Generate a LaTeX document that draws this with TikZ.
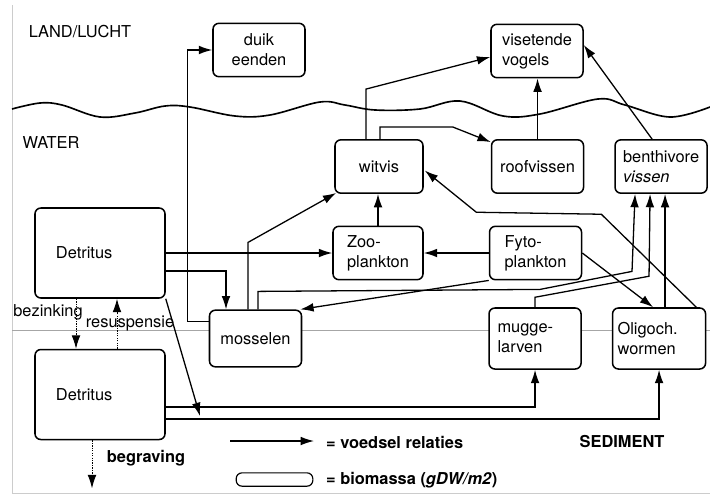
\documentclass[tikz,border=0pt]{standalone}
\usepackage{fontspec}
\setmainfont{TeX Gyre Heros}
\usetikzlibrary{arrows.meta, positioning}

\begin{document}
\begin{tikzpicture}[x=0.03cm, y=-0.03cm, node distance=0.9cm,
        font=\fontsize{14}{17}\selectfont,
        bio/.style={rectangle, draw=black, fill=white, rounded corners=5pt, line width=1.3pt, minimum width=2.76cm, minimum height=1.6cm, align=left},
        bioleft/.style={bio, minimum height=1.83cm, text width=2.25cm, inner xsep=0.24cm},
        detritus/.style={bio, minimum width=3.9cm, minimum height=2.7cm, text width=2.64cm, inner xsep=0.63cm},
        legend/.style={font=\fontsize{14}{17}\selectfont\bfseries},
        arrow/.style={-{Latex[length=4mm,width=2.6mm]}, line width=1.1pt},
        dotarrow/.style={arrow, densely dotted, line width=0.8pt}]

    \useasboundingbox (0,0) rectangle (710,495);

    % frame, sediment boundary and water surface
    \draw [gray!40] (12,5) -- (12,493) -- (710,493);
    \draw [gray!70, line width=0.7pt] (12,330) -- (710,330);
    \draw [line width=1.4pt] plot [smooth, tension=0.6] coordinates {(12,109) (40,103) (62,105) (100,117) (135,113) (165,106) (190,107) (235,116) (270,115) (320,102) (345,105) (375,110) (420,109) (460,101) (503,116) (540,114) (598,99) (625,105) (670,117) (710,107)};

    \node (land) at (80,32) {LAND/LUCHT};
    \node (water) at (51,143) {WATER};

    % biomass boxes
    \node (duik) [bio, align=center] at (259,50) {duik\\eenden};
    \node (vogels) [bio] at (537,51) {visetende\\vogels};
    \node (witvis) [bio, minimum width=2.64cm] at (379,166.5) {witvis};
    \node (roof) [bio, right=2.01cm of witvis] {roofvissen};
    \node (benth) [bio, right=0.9cm of roof] {benthivore\\\textit{vissen}};
    \node (detr1) [detritus] at (100,253) {Detritus};
    \node (zoo) [bio, minimum width=2.7cm] at (378,253) {Zoo-\\plankton};
    \node (fyto) [bio, right=1.95cm of zoo] {Fyto-\\plankton};
    \node (mossel) [bio, minimum height=1.7cm] at (255.5,338.5) {mosselen};
    \node (mugge) [bioleft, right=5.58cm of mossel] {mugge-\\larven};
    \node (olig) [bioleft, right=0.9cm of mugge, text width=2.49cm, inner xsep=0.15cm] {Oligoch.\\wormen};
    \node (detr2) [detritus, below=1.5cm of detr1] {Detritus};

    \node (bez) at (48,312) {bezinking};
    \node (resus) at (130,323) {resuspensie};
    \node (begr) [legend] at (146,458) {begraving};
    \node (sed) [legend] at (622,442) {SEDIMENT};

    % legend
    \coordinate (legstart) at (230,441);
    \node (legfood) [legend, anchor=west] at (322,442) {= voedsel relaties};
    \node (legbox) [draw, rounded corners=5pt, line width=1pt, minimum width=2.3cm, minimum height=0.4cm, inner sep=0pt] at (274.5,479.5) {};
    \node (legmass) [legend, anchor=west] at (322,480) {= biomassa (\textit{gDW/m2})};
    \draw [arrow] (legstart) -- ([shift={(-8,-1)}]legfood.west);

    % food relations
    \draw [arrow] ([shift={(0,12)}]mossel.north west) -- ++(-21,0) |- (duik.west);
    \draw [arrow] ([shift={(-13,0)}]witvis.north) -- ++(0,-50) -- ([shift={(0,6)}]vogels.west);
    \draw [arrow] ([shift={(1,0)}]witvis.north) -- ++(0,-12) -- ++(73,0) -- ([shift={(0,3)}]roof.north west);
    \draw [arrow] (roof.north) -- (roof.north |- vogels.south);
    \draw [arrow] ([shift={(-9,0)}]benth.north) -- ([shift={(0,-6)}]vogels.east);
    \draw [arrow] (zoo.north) -- (zoo.north |- witvis.south);
    \draw [arrow] ([shift={(-7.5,0)}]mossel.north) -- ++(0,-67) -- ([shift={(2,-1)}]witvis.south west);
    \draw [arrow] (detr1.east) -- (zoo.west);
    \draw [arrow] ([shift={(0,18)}]detr1.east) -| ([shift={(-29.5,0)}]mossel.north);
    \draw [arrow] (fyto.west) -- (zoo.east);
    \draw [arrow] (fyto.east) -- ([shift={(-6,0)}]olig.north);
    \draw [arrow] ([shift={(-10,0)}]olig.north east) -- ++(-95,-93) -- ++(-125,-2) -- ([shift={(1,4)}]witvis.east);
    \draw [arrow] (fyto.south west) -- ([shift={(-2,0)}]mossel.north east);
    \draw [arrow] ([shift={(2.5,0)}]mossel.north) -- ++(0,-18) -- ++(282,-2) -- ++(92,-18) -- ([shift={(-26,0)}]benth.south);
    \draw [arrow] (mugge.north) -- ++(0,-10) -- ++(114,-21) -- ([shift={(-11,0)}]benth.south);
    \draw [arrow] ([shift={(6,0)}]olig.north) -- ([shift={(6,0)}]olig.north |- benth.south);
    \draw [arrow] ([shift={(0,12.5)}]detr2.east) -| (mugge.south);
    \draw [arrow] ([shift={(0,24.5)}]detr2.east) -| (olig.south);
    \coordinate (drop) at (200,416);
    \draw [arrow] (detr1.south east) -- (drop);

    % exchange with the sediment
    \draw [dotarrow] ([shift={(-24,0)}]detr1.south) -- ([shift={(-24,0)}]detr2.north);
    \draw [dotarrow] ([shift={(17,0)}]detr2.north) -- ([shift={(17,0)}]detr1.south);
    \draw [dotarrow] ([shift={(-8,0)}]detr2.south) -- ++(0,48);
\end{tikzpicture}
\end{document}
